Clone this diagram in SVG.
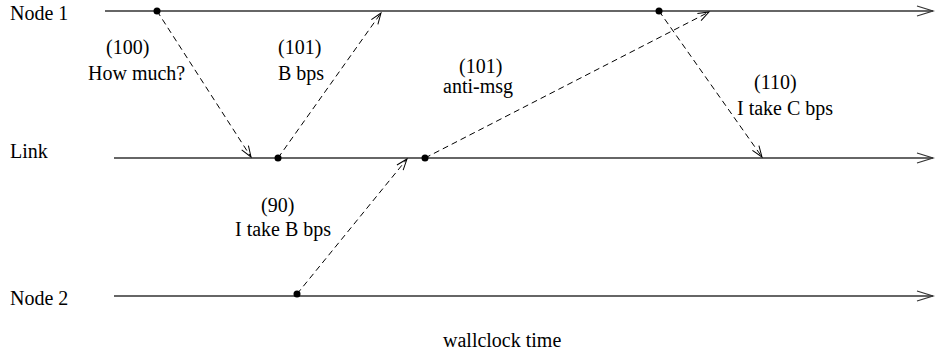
<svg xmlns="http://www.w3.org/2000/svg" width="935" height="354" viewBox="0 0 935 354">
<defs>
<style>
text{font-family:"Liberation Serif","Times New Roman",serif;font-size:20px;fill:#000}
.tl{stroke:#333;stroke-width:1.3;fill:none}
.msg{stroke:#000;stroke-width:1;stroke-dasharray:6 4;fill:none}
.dot{fill:#000}
</style>
<marker id="big" markerUnits="userSpaceOnUse" viewBox="0 0 18 12" markerWidth="18" markerHeight="12" refX="16" refY="6" orient="auto" overflow="visible">
<path d="M0,1 L16,6 L0,11" fill="none" stroke="#333" stroke-width="1.2"/>
</marker>
<marker id="small" markerUnits="userSpaceOnUse" viewBox="0 0 13 10" markerWidth="13" markerHeight="10" refX="11" refY="5" orient="auto" overflow="visible">
<path d="M0,1 L11,5 L0,9" fill="none" stroke="#000" stroke-width="1"/>
</marker>
</defs>
<rect width="935" height="354" fill="#fff"/>
<g id="node1">
<text x="10" y="20">Node 1</text>
<line class="tl" x1="105" y1="11" x2="933" y2="11" marker-end="url(#big)"/>
</g>
<g id="link">
<text x="10" y="158">Link</text>
<line class="tl" x1="114" y1="158" x2="933" y2="158" marker-end="url(#big)"/>
</g>
<g id="node2">
<text x="10" y="305">Node 2</text>
<line class="tl" x1="114" y1="296" x2="933" y2="296" marker-end="url(#big)"/>
</g>
<g id="connectors">
<line class="msg" x1="157" y1="11" x2="251" y2="157" marker-end="url(#small)"/>
<line class="msg" x1="278" y1="158" x2="381" y2="13" marker-end="url(#small)"/>
<line class="msg" x1="297" y1="294" x2="407" y2="159" marker-end="url(#small)"/>
<line class="msg" x1="425" y1="158" x2="709" y2="12" marker-end="url(#small)"/>
<line class="msg" x1="659" y1="11" x2="762" y2="157" marker-end="url(#small)"/>
</g>
<g id="events">
<circle class="dot" cx="157" cy="11" r="3.5"/>
<circle class="dot" cx="278" cy="158" r="3.5"/>
<circle class="dot" cx="297" cy="294" r="3.5"/>
<circle class="dot" cx="425" cy="158" r="3.5"/>
<circle class="dot" cx="659" cy="11" r="3.5"/>
</g>
<g id="labels">
<text x="106" y="54">(100)</text>
<text x="88" y="80">How much?</text>
<text x="278" y="54">(101)</text>
<text x="278" y="80">B bps</text>
<text x="459" y="73">(101)</text>
<text x="443" y="93">anti-msg</text>
<text x="754" y="89">(110)</text>
<text x="737" y="115">I take C bps</text>
<text x="261" y="212">(90)</text>
<text x="235" y="236">I take B bps</text>
<text x="443" y="347">wallclock time</text>
</g>
</svg>
